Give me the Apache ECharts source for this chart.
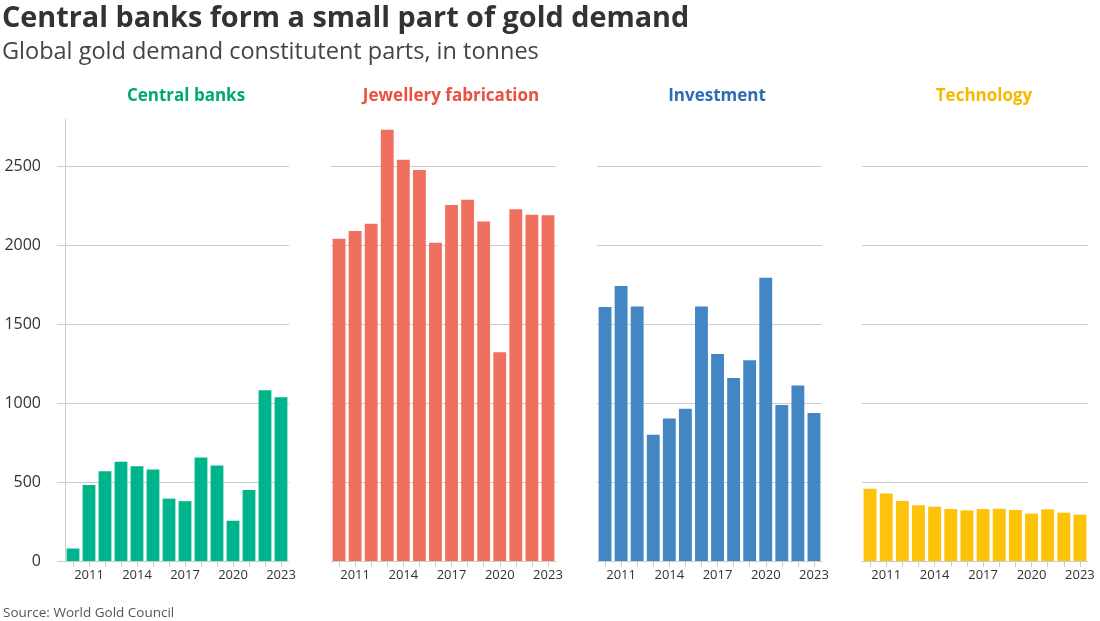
<!DOCTYPE html>
<html>
<head>
<meta charset="utf-8">
<script src="https://cdn.jsdelivr.net/npm/echarts@6/dist/echarts.min.js"></script>
<style>html,body{margin:0;padding:0;background:#fff;}#c{width:1100px;height:621px;}</style>
</head>
<body>
<div id="c"></div>
<script>
const years = ['2010','2011','2012','2013','2014','2015','2016','2017','2018','2019','2020','2021','2022','2023'];
const centralBanks = [79, 481, 569, 629, 601, 580, 395, 379, 656, 605, 255, 450, 1082, 1037];
const jewellery = [2042, 2090, 2137, 2732, 2542, 2477, 2016, 2255, 2289, 2150, 1322, 2228, 2194, 2190];
const investment = [1609, 1742, 1613, 800, 902, 965, 1613, 1311, 1159, 1271, 1795, 988, 1111, 938];
const technology = [458, 427, 380, 353, 344, 329, 321, 329, 331, 323, 300, 327, 306, 294];
const panelNames = ['Central banks', 'Jewellery fabrication', 'Investment', 'Technology'];

const seriesData = [centralBanks, jewellery, investment, technology];
const barColors = ['#00b48c', '#f07060', '#4286c4', '#fdc30a'];
const titleColors = ['#00a878', '#e9503e', '#2e6db4', '#f7b900'];
const gridLefts = [65, 331, 597, 862];
const gridWidths = [224, 225, 225, 226];
const titleCenters = [186, 451, 717, 984];
const FONT = '"Open Sans", Lato, sans-serif';

const chart = echarts.init(document.getElementById('c'), null, {renderer: 'canvas'});

const titles = [
  {text: 'Central banks form a small part of gold demand', left: 2, top: 4, padding: 0,
   textStyle: {fontFamily: FONT, fontSize: 28.8, fontWeight: 'bold', color: '#333'}},
  {text: 'Global gold demand constitutent parts, in tonnes', left: 2, top: 40, padding: 0,
   textStyle: {fontFamily: FONT, fontSize: 23.5, fontWeight: 'normal', color: '#444'}},
  {text: 'Source: World Gold Council', left: 3, top: 606, padding: 0,
   textStyle: {fontFamily: FONT, fontSize: 13.5, fontWeight: 'normal', color: '#555'}}
];
panelNames.forEach((n, i) => titles.push({
  text: n, left: titleCenters[i], top: 88, padding: 0, textAlign: 'center',
  textStyle: {fontFamily: FONT, fontSize: 17, fontWeight: 'bold', color: titleColors[i]}
}));

const grids = [], xAxes = [], yAxes = [], series = [];
for (let i = 0; i < 4; i++) {
  grids.push({left: gridLefts[i], width: gridWidths[i], top: 119, height: 442});
  xAxes.push({
    type: 'category', gridIndex: i, data: years,
    axisLine: {show: true, lineStyle: {color: '#ccc', width: 1}},
    axisTick: {show: true, alignWithLabel: true, interval: 0, length: 6, lineStyle: {color: '#ccc'}},
    axisLabel: {interval: (idx) => idx % 3 === 1, color: '#333', fontFamily: FONT, fontSize: 13, margin: 8}
  });
  yAxes.push({
    type: 'value', gridIndex: i, min: 0, max: 2800, interval: 500,
    axisLine: {show: i === 0, lineStyle: {color: '#ccc', width: 1}},
    axisTick: {show: i === 0, length: 8, lineStyle: {color: '#ccc'}},
    axisLabel: {show: i === 0, showMaxLabel: false, color: '#333', fontFamily: FONT, fontSize: 16, margin: 24,
      formatter: (v) => String(v)},
    splitLine: {show: true, showMaxLine: false, lineStyle: {color: '#ccc', width: 1}}
  });
  series.push({
    type: 'bar', xAxisIndex: i, yAxisIndex: i, data: seriesData[i],
    barCategoryGap: '20%', itemStyle: {color: barColors[i]}, silent: true
  });
}

chart.setOption({
  animation: false,
  backgroundColor: '#fff',
  title: titles,
  grid: grids,
  xAxis: xAxes,
  yAxis: yAxes,
  series: series
});
</script>
</body>
</html>
